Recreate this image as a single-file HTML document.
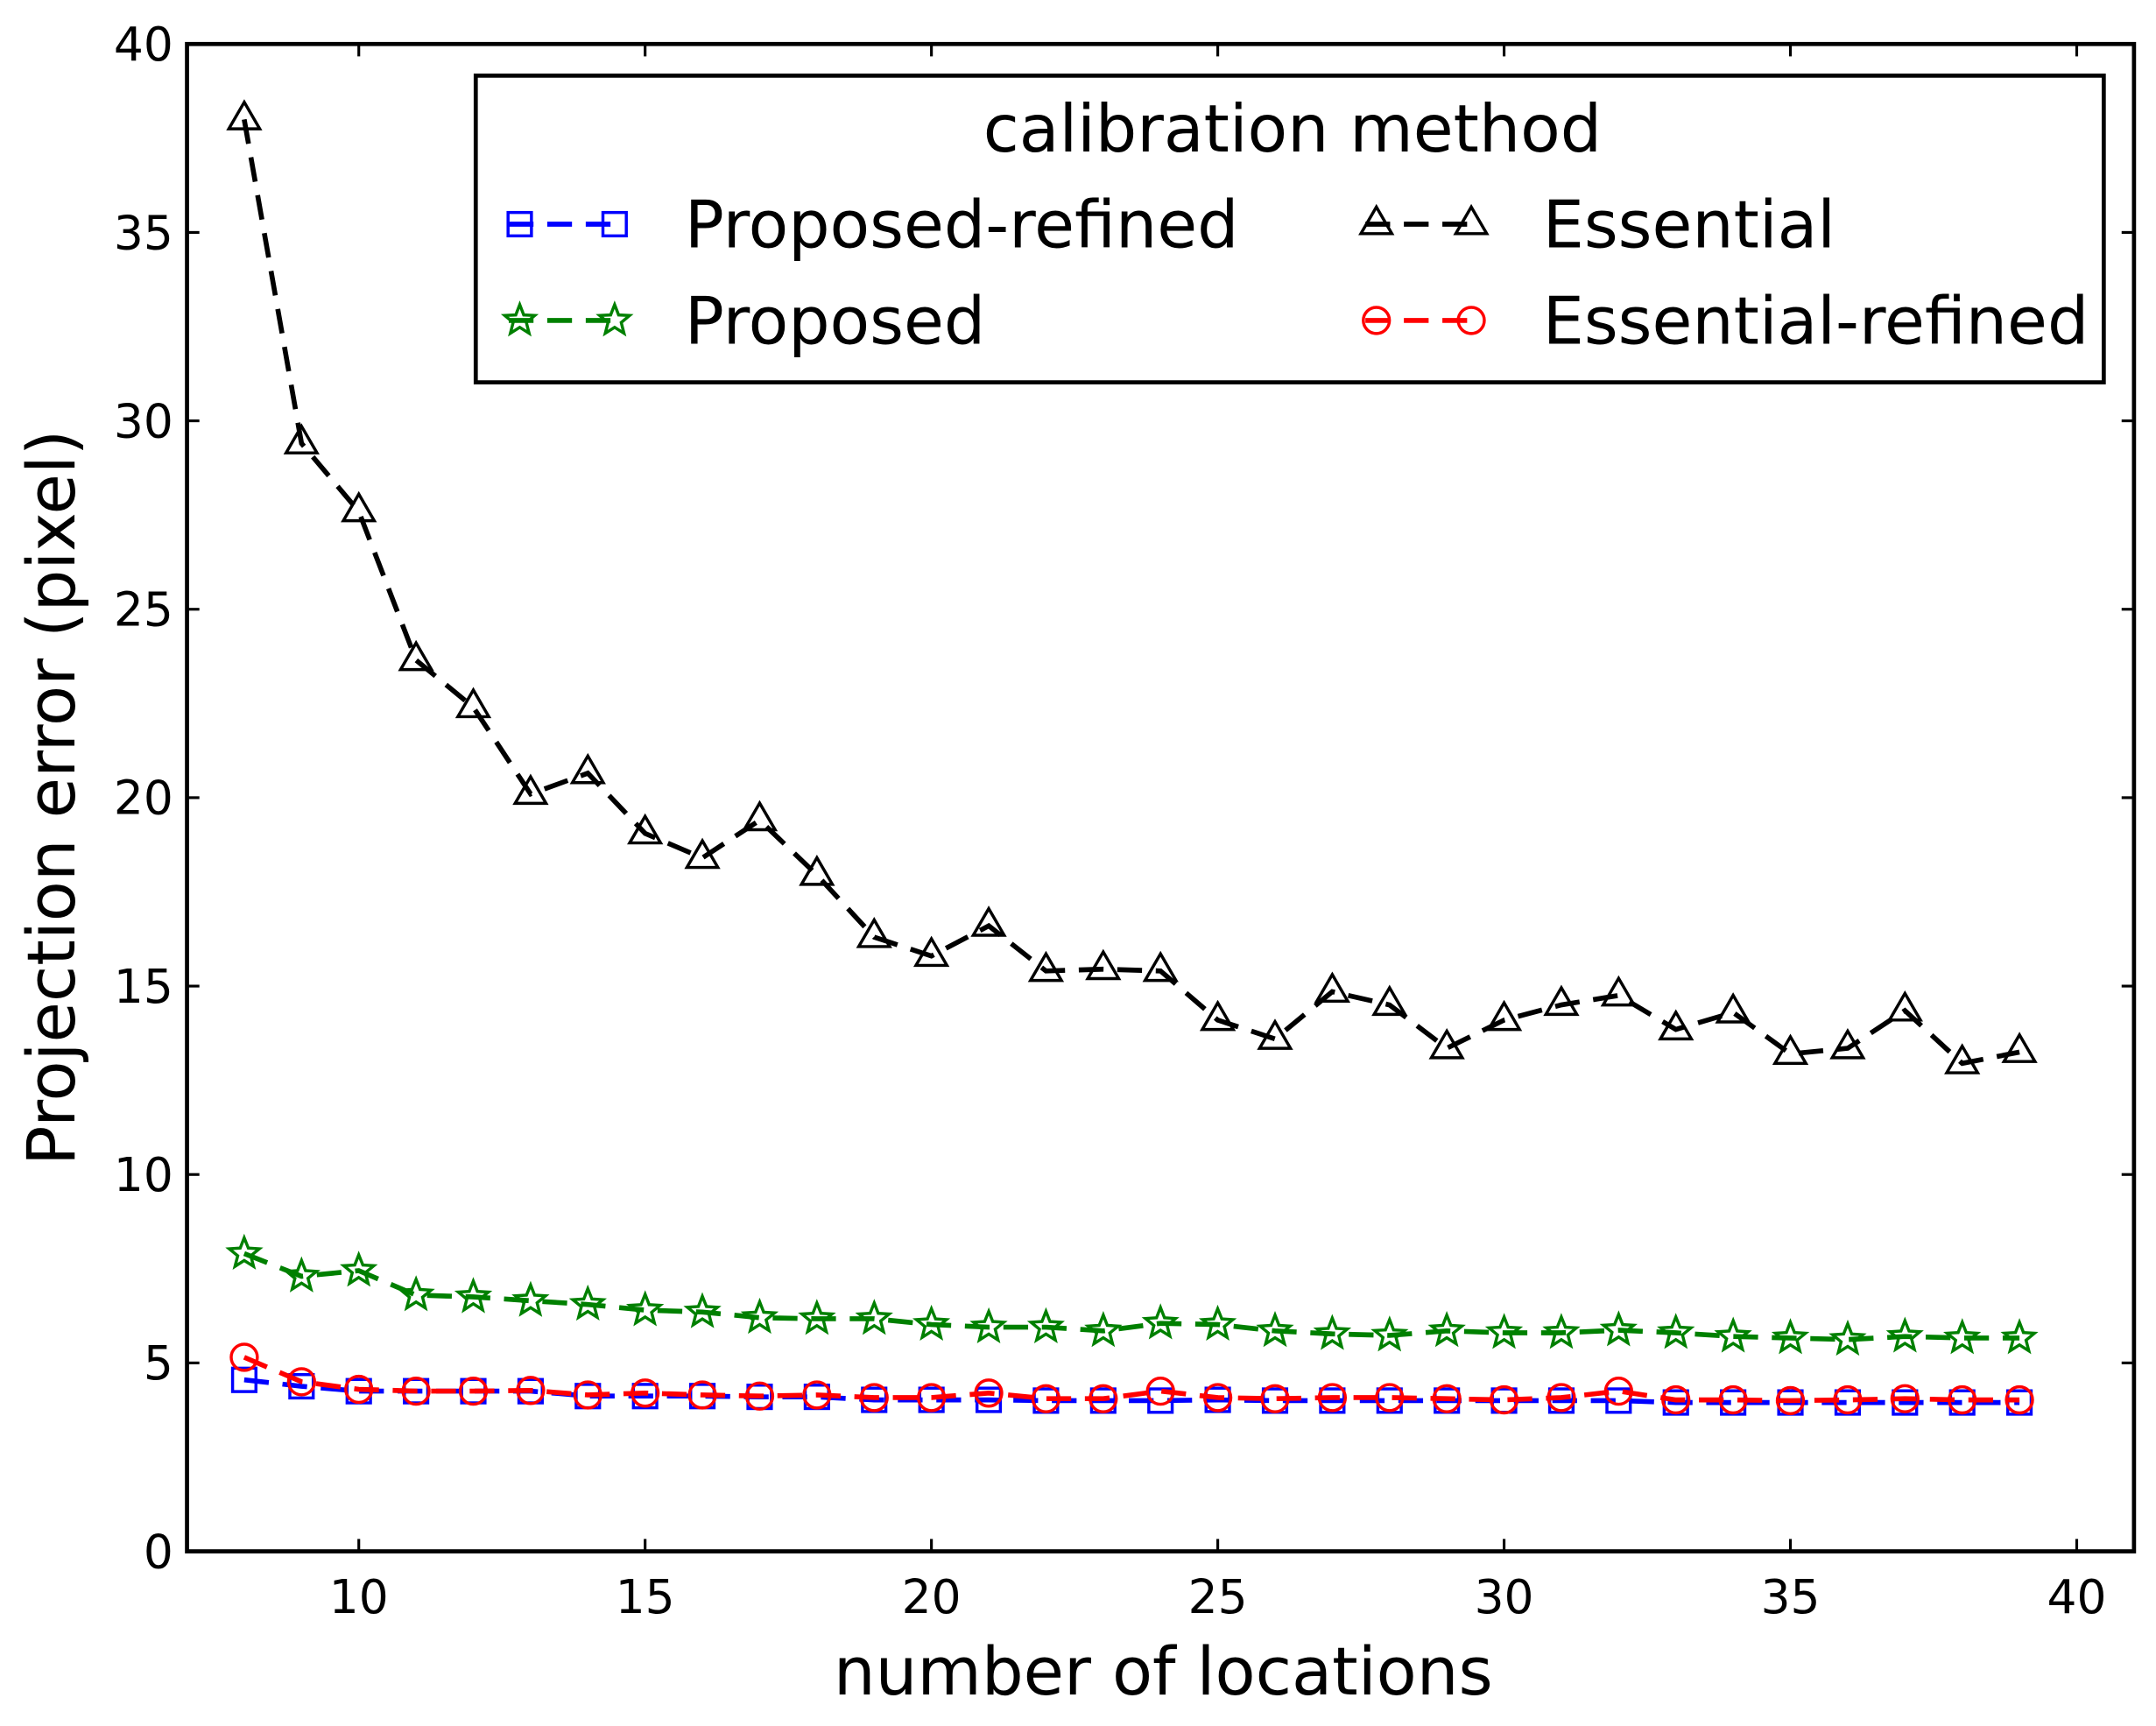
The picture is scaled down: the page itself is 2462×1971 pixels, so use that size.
<!DOCTYPE html>
<html><head><meta charset="utf-8"><style>
html,body{margin:0;padding:0;background:#fff;}
svg{display:block;}
text{font-family:"DejaVu Sans","Liberation Sans",sans-serif;fill:#000;}
</style></head><body>
<svg id="chart" width="2462" height="1971" viewBox="0 0 1568 1255" preserveAspectRatio="none" xmlns="http://www.w3.org/2000/svg">
<rect x="0" y="0" width="1568" height="1255" fill="#fff"/>
<g id="series"></g>
<g id="axes"></g>
<rect x="136" y="32" width="1416" height="1096" fill="none" stroke="#000" stroke-width="3"/>
<text x="846" y="1232" font-size="48" text-anchor="middle">number of locations</text>
<text transform="translate(54,580) rotate(-90)" font-size="48" text-anchor="middle">Projection error (pixel)</text>
<g>
<rect x="346" y="55" width="1184" height="223" fill="#fff" stroke="#000" stroke-width="3"/>
<text x="940" y="110" font-size="47.5" text-anchor="middle">calibration method</text>
<g id="legend-marks"></g>
<text x="498" y="180" font-size="47.5">Proposed-refined</text>
<text x="498" y="250" font-size="47.5">Proposed</text>
<text x="1122" y="180" font-size="47.5">Essential</text>
<text x="1122" y="250" font-size="47.5">Essential-refined</text>
</g>
</svg>
<script>
const xValues = [8,9,10,11,12,13,14,15,16,17,18,19,20,21,22,23,24,25,26,27,28,29,30,31,32,33,34,35,36,37,38,39];
const essential = [38.0,29.4,27.6,23.65,22.4,20.1,20.65,19.05,18.4,19.4,17.95,16.3,15.8,16.6,15.4,15.45,15.4,14.1,13.6,14.85,14.5,13.35,14.1,14.5,14.75,13.85,14.3,13.2,13.35,14.35,12.95,13.25];
const proposed = [7.9,7.3,7.45,6.8,6.75,6.65,6.55,6.4,6.35,6.2,6.17,6.17,6.02,5.95,5.95,5.85,6.05,6.02,5.85,5.77,5.73,5.85,5.8,5.8,5.87,5.8,5.7,5.66,5.62,5.7,5.66,5.66];
const proposedRefined = [4.55,4.38,4.25,4.25,4.25,4.25,4.12,4.12,4.12,4.1,4.1,4.02,4.02,4.02,4.0,4.0,4.0,4.02,4.0,4.0,4.0,4.0,4.0,4.0,4.0,3.95,3.95,3.95,3.95,3.95,3.95,3.95];
const essentialRefined = [5.15,4.5,4.3,4.25,4.25,4.27,4.15,4.2,4.15,4.12,4.15,4.08,4.08,4.2,4.05,4.05,4.25,4.08,4.05,4.08,4.08,4.05,4.02,4.08,4.25,4.02,4.02,4.0,4.02,4.05,4.02,4.02];
const xTicks = [10,15,20,25,30,35,40];
const yTicks = [0,5,10,15,20,25,30,35,40];

const NS = "http://www.w3.org/2000/svg";
const L=136,R=1552,T=32,B=1128, XMIN=7, XMAX=41, YMIN=0, YMAX=40;
function xs(v){return L+(v-XMIN)/(XMAX-XMIN)*(R-L);}
function ys(v){return B-(v-YMIN)/(YMAX-YMIN)*(B-T);}
function mk(tag, attrs, parent){const e=document.createElementNS(NS,tag);for(const k in attrs)e.setAttribute(k,attrs[k]);parent.appendChild(e);return e;}

const axes=document.getElementById('axes');
xTicks.forEach(t=>{
  const x=xs(t);
  const l1=mk('line',{x1:x,y1:B,x2:x,y2:B-9,stroke:'#000','stroke-width':2},axes);
  
  
  const l2=mk('line',{x1:x,y1:T,x2:x,y2:T+9,stroke:'#000','stroke-width':2},axes);
  
  
  const tx=mk('text',{x:x,y:B+45,'font-size':34,'text-anchor':'middle'},axes);
  tx.textContent=t;
  
  
});
yTicks.forEach(t=>{
  const y=ys(t);
  const l1=mk('line',{x1:L,y1:y,x2:L+9,y2:y,stroke:'#000','stroke-width':2},axes);
  
  
  const l2=mk('line',{x1:R,y1:y,x2:R-9,y2:y,stroke:'#000','stroke-width':2},axes);
  
  
  const tx=mk('text',{x:L-10,y:y+12,'font-size':34,'text-anchor':'end'},axes);
  tx.textContent=t;
  
  
});

function marker(type,x,y,color,parent,s){
  s=s||1;
  let e;
  if(type==='square'){e=mk('rect',{x:x-8.5*s,y:y-8.5*s,width:17*s,height:17*s},parent);}
  else if(type==='circle'){e=mk('circle',{cx:x,cy:y,r:9.5*s},parent);}
  else if(type==='triangle'){const r=12.5*s;e=mk('polygon',{points:`${x},${y-r} ${x-r*0.9},${y+r*0.55} ${x+r*0.9},${y+r*0.55}`},parent);}
  else {const pts=[];for(let i=0;i<10;i++){const a=-Math.PI/2+i*Math.PI/5;const r=(i%2?5:11.5)*s;pts.push((x+r*Math.cos(a)).toFixed(1)+','+(y+r*Math.sin(a)).toFixed(1));}e=mk('polygon',{points:pts.join(' ')},parent);}
  e.setAttribute('fill','none');e.setAttribute('stroke',color);e.setAttribute('stroke-width',2.2);
  return e;
}

const seriesG=document.getElementById('series');
const defs=[
 {name:'essential',data:essential,color:'#000',m:'triangle'},
 {name:'proposed',data:proposed,color:'#008000',m:'star'},
 {name:'proposed-refined',data:proposedRefined,color:'#0000ff',m:'square'},
 {name:'essential-refined',data:essentialRefined,color:'#ff0000',m:'circle'}
];
defs.forEach(d=>{
  const g=mk('g',{},seriesG);
  
  
  const pts=xValues.map((xv,i)=>xs(xv).toFixed(1)+','+ys(d.data[i]).toFixed(1)).join(' ');
  const pl=mk('polyline',{points:pts,fill:'none',stroke:d.color,'stroke-width':3.6,'stroke-dasharray':'18,10'},g);
  
  
  xValues.forEach((xv,i)=>{
    const e=marker(d.m,xs(xv),ys(d.data[i]),d.color,g);
    
    
  });
});

const lm=document.getElementById('legend-marks');
[
 {m:'square',c:'#0000ff',x:370,y:163,n:'proposed-refined'},
 {m:'star',c:'#008000',x:370,y:233,n:'proposed'},
 {m:'triangle',c:'#000',x:993,y:163,n:'essential'},
 {m:'circle',c:'#ff0000',x:993,y:233,n:'essential-refined'}
].forEach(o=>{
  const g=mk('g',{},lm);
  
  
  mk('line',{x1:o.x,y1:o.y,x2:o.x+77,y2:o.y,stroke:o.c,'stroke-width':3.6,'stroke-dasharray':'18,10'},g);
  marker(o.m,o.x+8,o.y,o.c,g,1);
  marker(o.m,o.x+77,o.y,o.c,g,1);
});
</script>
</body></html>
